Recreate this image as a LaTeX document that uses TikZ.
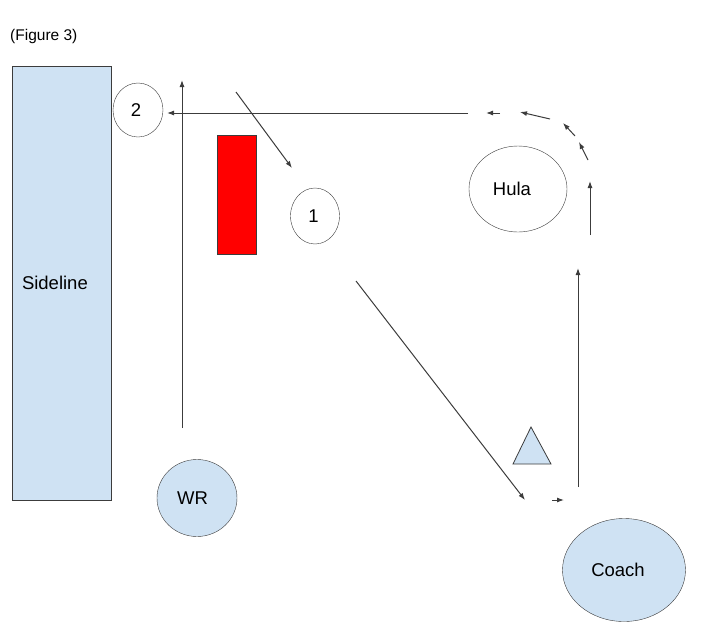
\documentclass[tikz,border=0pt]{standalone}
\usepackage{fontspec}
\setmainfont{Liberation Sans}
\usetikzlibrary{positioning,shapes,arrows.meta}
\definecolor{playerblue}{HTML}{CFE2F3}
\definecolor{edgegray}{HTML}{3C3C3C}
\tikzset{
    zone/.style={rectangle, draw=edgegray, fill=playerblue, inner sep=10pt},
    spot/.style={ellipse, draw=edgegray, fill=white, inner sep=0pt},
    player/.style={ellipse, draw=edgegray, fill=playerblue, inner sep=0pt},
    route/.style={draw=edgegray, line width=1pt, -{Latex[length=7pt, width=5pt]}}
}
% text in the ellipses sits a little left of centre
\newcommand{\leftlabel}[2]{\hspace*{-#1}#2}

\begin{document}
\begin{tikzpicture}[x=1pt, y=-1pt, every node/.style={font=\fontsize{18.5}{21}\selectfont}]
        \useasboundingbox (0,0) rectangle (713,641);
        \node[anchor=west, inner sep=0pt, font=\fontsize{15.5}{18}\selectfont] (fig) at (10,36) {(Figure 3)};

        \node[zone, minimum width=99pt, minimum height=434pt, text width=79pt, align=left] (side) at (61.5,283) {Sideline};
        \node[spot, minimum width=50pt, minimum height=54pt] (two) at (138,110) {\leftlabel{4pt}{2}};
        \node[spot, minimum width=49pt, minimum height=56pt] (one) at (315,216) {\leftlabel{3pt}{1}};
        \node[spot, minimum width=98pt, minimum height=86pt] (hula) at (518,189) {\leftlabel{12pt}{Hula}};
        \node[rectangle, draw=edgegray, fill=red, minimum width=39pt, minimum height=119pt] (bag) at (236.5,194.5) {};
        \node[player, minimum width=80pt, minimum height=77pt] (wr) at (197,498) {\leftlabel{9pt}{WR}};
        \node[player, minimum width=123pt, minimum height=103pt] (coach) at (624,570) {\leftlabel{12pt}{Coach}};
        \draw[draw=edgegray, line width=0.8pt, fill=playerblue] (531,427) -- (551,464) -- (513,464) -- cycle;

        % routes
        \coordinate (wrA) at (182,428);  \coordinate (wrB) at (182,80);
        \coordinate (topA) at (468,113); \coordinate (topB) at (167,113);
        \coordinate (slA) at (236,92);   \coordinate (slB) at (292,168);
        \coordinate (dgA) at (356,281);  \coordinate (dgB) at (525,500);
        \coordinate (stA) at (552,500);  \coordinate (stB) at (564,500);
        \coordinate (upA) at (578,487);  \coordinate (upB) at (578,268);
        \coordinate (hkA) at (590,235);  \coordinate (hkB) at (590,181);
        \coordinate (cvA) at (588,160);  \coordinate (cvB) at (579,142);
        \coordinate (cvC) at (575,136);  \coordinate (cvD) at (563,123);
        \coordinate (cvE) at (550,119);  \coordinate (cvF) at (520,112);
        \coordinate (cvG) at (500,113);  \coordinate (cvH) at (486,113);

        \foreach \a/\b in {wrA/wrB, topA/topB, slA/slB, dgA/dgB, stA/stB, upA/upB, hkA/hkB, cvA/cvB, cvC/cvD, cvE/cvF, cvG/cvH}
            \draw[route] (\a) -- (\b);
    \end{tikzpicture}
\end{document}
